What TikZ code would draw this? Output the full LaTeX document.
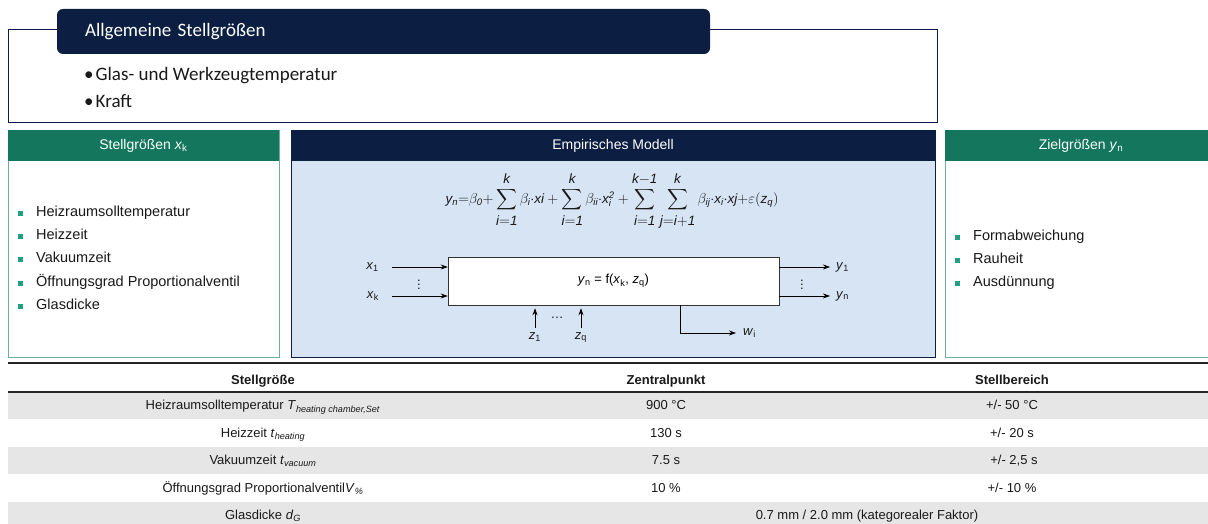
\documentclass[tikz,border=0pt]{standalone}
\usepackage{fontspec}
\usepackage{graphicx}
\setmainfont{Liberation Sans}
\newfontfamily\calibri{Carlito}
\usetikzlibrary{arrows.meta,positioning}

\definecolor{navy}{RGB}{12,31,66}
\definecolor{dgreen}{RGB}{19,118,93}
\definecolor{lgreen}{RGB}{110,175,155}
\definecolor{bgreen}{RGB}{32,160,128}
\definecolor{lblue}{RGB}{214,228,244}
\definecolor{rowgrey}{RGB}{230,230,230}
\definecolor{ink}{RGB}{25,25,25}

\newcommand{\vsub}[2]{\textit{#1}\textsubscript{#2}}
\newcommand{\bsum}[2]{\mathop{\vcenter{\hbox{\scalebox{1.45}{$\displaystyle\sum$}}}}\limits_{\textstyle\rule{0pt}{13pt}#1}^{\textstyle #2\rule[-4pt]{0pt}{4pt}}}

\begin{document}
\begin{tikzpicture}[x=1pt, y=-1pt,
    frame/.style={draw=navy, line width=0.9pt, minimum width=929pt, minimum height=93pt},
    tab/.style={fill=navy, text=white, rounded corners=6pt, minimum width=653pt, minimum height=45pt, inner xsep=28pt, text width=597pt, align=left, font=\calibri\fontsize{19}{22}\selectfont},
    cal/.style={anchor=west, text=ink, inner sep=0pt, font=\calibri\fontsize{19}{22}\selectfont},
    gbox/.style={draw=lgreen, line width=0.8pt, fill=white, minimum height=227pt},
    ghead/.style={fill=dgreen, text=white, minimum height=31pt, font=\fontsize{14}{16}\selectfont},
    mbox/.style={draw=navy, line width=0.8pt, fill=lblue, minimum width=644pt, minimum height=227pt},
    mhead/.style={fill=navy, text=white, minimum width=644pt, minimum height=31pt, font=\fontsize{14}{16}\selectfont},
    sq/.style={fill=bgreen, minimum size=5pt, inner sep=0pt},
    itm/.style={anchor=west, inner sep=0pt, text height=10.5pt, text depth=3pt, text=ink, font=\fontsize{14.5}{17}\selectfont, label={[sq, label distance=13pt]left:{}}},
    sysbox/.style={draw=black!80, line width=0.6pt, fill=white, minimum width=331pt, minimum height=48pt, font=\fontsize{13}{15}\selectfont},
    lbl/.style={inner sep=1pt, text=ink, font=\fontsize{13}{15}\selectfont},
    arr/.style={-{Stealth[length=7pt, width=5pt]}, line width=0.7pt},
    rule/.style={draw=black!85, line width=1.6pt},
    cell/.style={text=ink, text height=9.5pt, text depth=3pt, font=\fontsize{13}{15}\selectfont}
]
\useasboundingbox (0,0) rectangle (1208,524);

% general settings
\node[frame] (gen) at (472.5,75.5) {};
\node[tab] (gentab) at (383.5,31.5) {Allgemeine Stellgrößen};
\node[cal] (g1) at (84,76) {\textbullet\hspace{2pt}Glas- und Werkzeugtemperatur};
\node[cal] (g2) at (84,101) {\textbullet\hspace{2pt}Kraft};

% inputs
\node[gbox, minimum width=271pt] (inbox) at (143.5,243.5) {};
\node[ghead, minimum width=271pt] (inhead) at (143.5,145.5) {Stellgrößen \vsub{x}{k}};
\node[itm] (i1) at (36,213) {Heizraumsolltemperatur};
\node[itm] (i2) at (36,236) {Heizzeit};
\node[itm] (i3) at (36,259) {Vakuumzeit};
\node[itm] (i4) at (36,283) {Öffnungsgrad Proportionalventil};
\node[itm] (i5) at (36,306) {Glasdicke};

% outputs
\node[gbox, minimum width=272pt] (outbox) at (1081,243.5) {};
\node[ghead, minimum width=272pt] (outhead) at (1081,145.5) {Zielgrößen \vsub{y}{n}};
\node[itm] (o1) at (973,237) {Formabweichung};
\node[itm] (o2) at (973,260) {Rauheit};
\node[itm] (o3) at (973,283) {Ausdünnung};

% model
\node[mbox] (model) at (613,243.5) {};
\node[mhead] (mhd) at (613,145.5) {Empirisches Modell};
\node[lbl, font=\fontsize{13.5}{15}\selectfont] (eq) at (612,201) {$\mathit{y_n{=}\beta_0{+}\bsum{i{=}1}{k}\beta_i{\cdot}xi+\bsum{i{=}1}{k}\beta_{ii}{\cdot}x_i^2+\bsum{i{=}1}{k{-}1}\bsum{j{=}i{+}1}{k}\beta_{ij}{\cdot}x_i{\cdot}xj{+}\varepsilon(z_q)}$};
\node[sysbox] (sys) at (613.5,281) {\vsub{y}{n} = f(\vsub{x}{k}, \vsub{z}{q})};

\coordinate (in1) at (392,267);
\coordinate (ink) at (392,296);
\coordinate (out1) at (830,267);
\coordinate (outn) at (830,296);
\coordinate (zs1) at (535,328);
\coordinate (zsq) at (581,328);
\coordinate (wend) at (736,333);

\node[lbl, left=12pt of in1] (x1) {\vsub{x}{1}};
\node[lbl, left=12pt of ink] (xk) {\vsub{x}{k}};
\node[lbl, right=5pt of out1] (y1) {\vsub{y}{1}};
\node[lbl, right=5pt of outn] (yn) {\vsub{y}{n}};
\node[lbl, below=3pt of zs1] (z1) {\vsub{z}{1}};
\node[lbl, below=3pt of zsq] (zq) {\vsub{z}{q}};
\node[lbl, right=6pt of wend] (wi) {\vsub{w}{i}};
\node[lbl] (vd1) at (419,282) {$\vdots$};
\node[lbl] (vd2) at (802,282) {$\vdots$};
\node[lbl] (hd) at (557,318) {\dots};

\draw[arr] (in1) -- (in1 -| sys.west);
\draw[arr] (ink) -- (ink -| sys.west);
\draw[arr] (out1 -| sys.east) -- (out1);
\draw[arr] (outn -| sys.east) -- (outn);
\draw[arr, shorten >=3pt] (zs1) -- (zs1 |- sys.south);
\draw[arr, shorten >=3pt] (zsq) -- (zsq |- sys.south);
\draw[arr] ([xshift=67pt]sys.south) |- (wend);

% table
\fill[rowgrey] (8,392) rectangle (1208,419);
\fill[rowgrey] (8,447) rectangle (1208,474);
\fill[rowgrey] (8,502) rectangle (1208,530);
\draw[rule] (8,363) -- (1208,363);
\draw[rule] (8,392) -- (1208,392);

\node[cell] (h1) at (263,381) {\textbf{Stellgröße}};
\node[cell] (h2) at (666,381) {\textbf{Zentralpunkt}};
\node[cell] (h3) at (1012,381) {\textbf{Stellbereich}};

\node[cell] (r11) at (263,406.5) {Heizraumsolltemperatur \textit{T}\textsubscript{\textit{heating chamber,Set}}};
\node[cell] (r12) at (666,406.5) {900 °C};
\node[cell] (r13) at (1012,406.5) {+/- 50 °C};
\node[cell] (r21) at (263,434) {Heizzeit \textit{t}\textsubscript{\textit{heating}}};
\node[cell] (r22) at (666,434) {130 s};
\node[cell] (r23) at (1012,434) {+/- 20 s};
\node[cell] (r31) at (263,461.5) {Vakuumzeit \textit{t}\textsubscript{\textit{vacuum}}};
\node[cell] (r32) at (666,461.5) {7.5 s};
\node[cell] (r33) at (1014,461.5) {+/- 2,5 s};
\node[cell] (r41) at (263,489) {Öffnungsgrad Proportionalventil\textit{V}\textsubscript{\textit{\%}}};
\node[cell] (r42) at (666,489) {10 \%};
\node[cell] (r43) at (1012,489) {+/- 10 \%};
\node[cell] (r51) at (263,516.5) {Glasdicke \textit{d}\textsubscript{\textit{G}}};
\node[cell] (r52) at (867,516.5) {0.7 mm / 2.0 mm (kategorealer Faktor)};
\end{tikzpicture}
\end{document}
